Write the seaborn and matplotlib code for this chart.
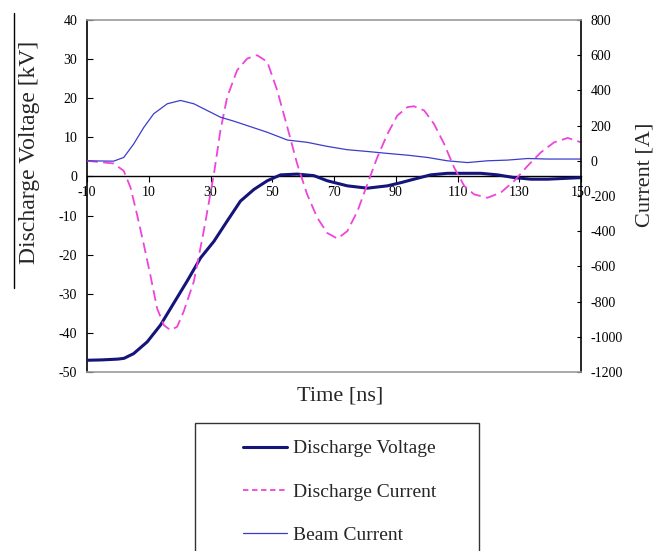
import matplotlib
matplotlib.use('Agg')
import matplotlib.pyplot as plt
import seaborn as sns
from matplotlib.lines import Line2D
from matplotlib.patches import Rectangle

# 数据
volt_t = [-10, -5, 0, 2, 5.1, 9.5, 13.8, 18.1, 22.4, 26.8, 31.1, 35.4, 39.7, 44.1, 48.4,
          52.7, 58.1, 63.5, 67.8, 74.3, 80.8, 87.3, 91.6, 95.9, 101.3, 106.7, 112.2,
          117.6, 123, 128.4, 133.8, 139.2, 144.6, 150]
volt_kv = [-47.0, -46.9, -46.7, -46.5, -45.3, -42.3, -38.0, -32.4, -26.8, -20.8, -16.6,
           -11.4, -6.3, -3.3, -1.1, 0.4, 0.6, 0.2, -1.1, -2.4, -3.0, -2.4, -1.6, -0.7,
           0.4, 0.8, 0.8, 0.8, 0.4, -0.3, -0.7, -0.7, -0.5, -0.3]

dc_t = [-10, -1.4, 1.9, 4.1, 6.2, 8.4, 10.5, 12.7, 14.9, 17.0, 19.2, 21.3, 24.6, 27.8,
        31.1, 33.2, 35.4, 38.6, 41.9, 45.1, 48.4, 51.6, 54.9, 58.1, 61.3, 64.6, 67.8,
        71.1, 74.3, 77.6, 80.8, 84.0, 87.3, 90.5, 93.8, 95.9, 99.2, 102.4, 105.7, 108.9,
        112.2, 115.4, 119.7, 124.0, 128.4, 132.7, 137.0, 141.3, 145.7, 150]
dc_a = [0, -15, -57, -152, -305, -476, -648, -838, -934, -962, -943, -857, -686, -400,
        -76, 171, 362, 514, 581, 600, 562, 400, 190, -19, -191, -324, -410, -442, -400,
        -286, -133, 19, 152, 257, 305, 310, 286, 209, 95, -38, -143, -191, -210, -181,
        -114, -29, 48, 105, 130, 105]

beam_t = [-10, -1.4, 1.9, 5.1, 8.4, 11.6, 16.0, 20.3, 24.6, 28.9, 33.2, 37.6, 41.9, 48.4,
          54.9, 61.3, 67.8, 74.3, 80.8, 87.3, 93.8, 100.3, 106.7, 113.2, 119.7, 126.2,
          132.7, 139.2, 145.7, 150]
beam_a = [0, -2, 19, 95, 190, 267, 324, 343, 324, 286, 248, 225, 200, 162, 118, 105, 82,
          63, 53, 42, 32, 19, 0, -10, 0, 4, 13, 10, 10, 10]

x_ticks = [-10, 10, 30, 50, 70, 90, 110, 130, 150]

navy = '#14147a'
magenta = '#ee44dd'
blue = '#3c3ccc'

sns.set_style('ticks')
plt.rcParams['font.family'] = ['Liberation Serif', 'DejaVu Serif']
plt.rcParams['axes.unicode_minus'] = False

fig = plt.figure(figsize=(6.65, 5.51), dpi=100)
ax = fig.add_axes([87 / 665, 1 - 372 / 551, 494 / 665, 352 / 551])
ax2 = ax.twinx()

sns.lineplot(x=volt_t, y=volt_kv, ax=ax, color=navy, lw=2.2, zorder=5)
sns.lineplot(x=dc_t, y=dc_a, ax=ax2, color=magenta, lw=1.3, linestyle=(0, (6, 3)))
sns.lineplot(x=beam_t, y=beam_a, ax=ax2, color=blue, lw=0.9)

# 左轴
ax.set_xlim(-10, 150)
ax.set_ylim(-50, 40)
ax.set_yticks(range(-50, 41, 10))
ax.set_xticks(x_ticks)
ax.spines['bottom'].set_position(('data', 0))
ax.spines['bottom'].set_color('black')
ax.spines['bottom'].set_linewidth(1.0)
ax.spines['left'].set_color('black')
ax.spines['left'].set_linewidth(1.2)
ax.spines['top'].set_visible(False)
ax.spines['right'].set_visible(False)
ax.tick_params(axis='y', direction='in', length=4, pad=7, labelsize=10, colors='black')
ax.tick_params(axis='x', direction='out', length=4, pad=3, labelsize=10, colors='black')

# 右轴
ax2.set_ylim(-1200, 800)
ax2.set_yticks(range(-1200, 801, 200))
ax2.spines['left'].set_visible(False)
ax2.spines['right'].set_color('black')
ax2.spines['right'].set_linewidth(1.2)
ax2.spines['top'].set_color('#999999')
ax2.spines['bottom'].set_color('#999999')
ax2.spines['top'].set_linewidth(1.2)
ax2.spines['bottom'].set_linewidth(1.2)
ax2.tick_params(axis='y', direction='in', length=3, pad=7, labelsize=10, colors='black')

ax.set_xlabel('Time [ns]', fontsize=16)
ax.xaxis.set_label_coords(0.512, -0.04)
ax.set_ylabel('Discharge Voltage [kV]', fontsize=17)
ax.yaxis.set_label_coords(-0.095, 0.625)
ax2.set_ylabel('Current [A]', fontsize=16)
ax2.yaxis.set_label_coords(1.11, 0.56)

# 左侧标签旁的竖线
fig.add_artist(Line2D([14 / 665, 14 / 665], [1 - 13 / 551, 1 - 288 / 551],
                      color='black', lw=1.0))

# 图例
fig.add_artist(Rectangle((195 / 665, -0.05), 284 / 665, 1 - 423 / 551 + 0.05,
                         transform=fig.transFigure, fill=False,
                         edgecolor='#333333', lw=1.0))
handles = [Line2D([], [], color=navy, lw=2.2),
           Line2D([], [], color=magenta, lw=1.3, linestyle=(0, (3, 2))),
           Line2D([], [], color=blue, lw=0.9)]
labels = ['Discharge Voltage', 'Discharge Current', 'Beam Current']
fig.legend(handles, labels, loc='upper left', bbox_to_anchor=(233 / 665, 1 - 430 / 551),
           frameon=False, fontsize=14, borderpad=0, handlelength=2.3,
           handletextpad=0.3, labelspacing=1.33)

fig.savefig('out.png', dpi=100)
